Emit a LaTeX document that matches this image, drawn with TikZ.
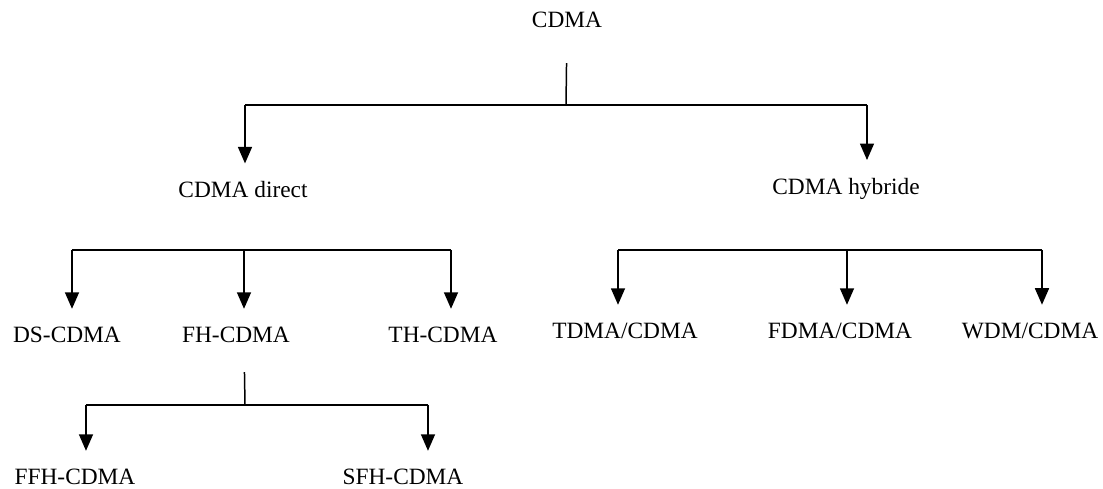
\documentclass[tikz,border=0pt]{standalone}
\usepackage{fontspec}
\setmainfont{Liberation Serif}
\usetikzlibrary{arrows.meta}
\tikzset{
  lbl/.style={font=\fontsize{13.3}{15}\selectfont,inner sep=0pt},
  link/.style={line width=0.85pt},
  stem/.style={link,shorten <=#1},
  arr/.style={link,-{Triangle[length=3.3mm,width=2.8mm]},shorten >=0.36cm}
}
\begin{document}
\begin{tikzpicture}[x=0.02cm,y=-0.02cm]
\path[use as bounding box] (0,0) rectangle (1103,489);
% root and first level
\node[lbl] (cdma) at (567,20) {CDMA};
\node[lbl] (dir) at (243,190) {CDMA direct};
\node[lbl] (hyb) at (846,189) {CDMA hybride};
% second level
\node[lbl] (ds) at (67,335) {DS-CDMA};
\node[lbl] (fh) at (236,335) {FH-CDMA};
\node[lbl] (th) at (443,335) {TH-CDMA};
\node[lbl] (tdma) at (625,331) {TDMA/CDMA};
\node[lbl] (fdma) at (840,331) {FDMA/CDMA};
\node[lbl] (wdm) at (1030,331) {WDM/CDMA};
% third level
\node[lbl] (ffh) at (75,477) {FFH-CDMA};
\node[lbl] (sfh) at (403,477) {SFH-CDMA};
% junctions
\coordinate (j0) at (566,105);
\coordinate (j1) at (244,250);
\coordinate (j2) at (847,250);
\coordinate (j3) at (245,405);
% cdma -> direct / hybride
\draw[stem=0.7cm] (cdma.south) -- (j0);
\draw[link] ([xshift=0.04cm]dir.north |- j0) -- ([xshift=0.42cm]hyb.north |- j0);
\draw[arr] ([xshift=0.04cm]dir.north |- j0) -- ([xshift=0.04cm]dir.north);
\draw[arr] ([xshift=0.42cm]hyb.north |- j0) -- ([xshift=0.42cm]hyb.north);
% direct -> ds / fh / th
\draw[link] ([xshift=0.1cm]ds.north |- j1) -- ([xshift=0.16cm]th.north |- j1);
\draw[arr] ([xshift=0.1cm]ds.north |- j1) -- ([xshift=0.1cm]ds.north);
\draw[arr] ([xshift=0.16cm]fh.north |- j1) -- ([xshift=0.16cm]fh.north);
\draw[arr] ([xshift=0.16cm]th.north |- j1) -- ([xshift=0.16cm]th.north);
% hybride -> tdma / fdma / wdm
\draw[link] ([xshift=-0.14cm]tdma.north |- j2) -- ([xshift=0.24cm]wdm.north |- j2);
\draw[arr] ([xshift=-0.14cm]tdma.north |- j2) -- ([xshift=-0.14cm]tdma.north);
\draw[arr] ([xshift=0.14cm]fdma.north |- j2) -- ([xshift=0.14cm]fdma.north);
\draw[arr] ([xshift=0.24cm]wdm.north |- j2) -- ([xshift=0.24cm]wdm.north);
% fh -> ffh / sfh
\draw[stem=0.58cm] ([xshift=0.16cm]fh.south) -- (j3);
\draw[link] ([xshift=0.22cm]ffh.north |- j3) -- ([xshift=0.5cm]sfh.north |- j3);
\draw[arr] ([xshift=0.22cm]ffh.north |- j3) -- ([xshift=0.22cm]ffh.north);
\draw[arr] ([xshift=0.5cm]sfh.north |- j3) -- ([xshift=0.5cm]sfh.north);
\end{tikzpicture}
\end{document}
